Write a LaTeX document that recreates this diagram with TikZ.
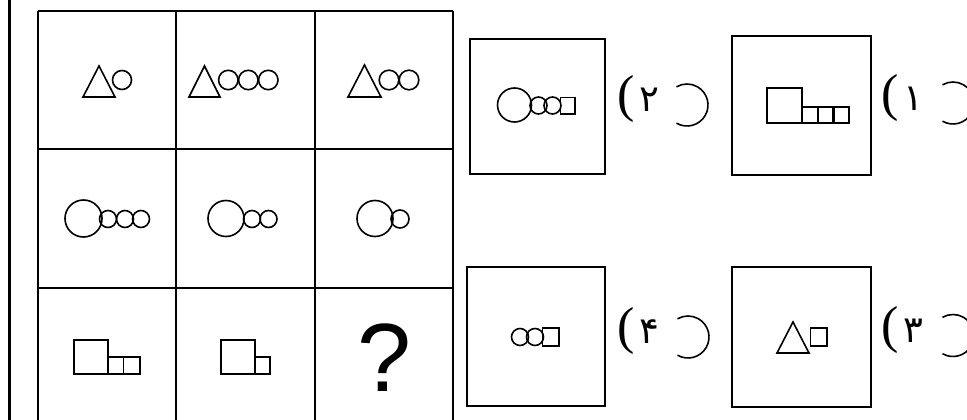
\documentclass[tikz,border=0pt]{standalone}
\usepackage{fontspec}
\newfontfamily\qfont{Liberation Sans}
\newfontfamily\parfont{Liberation Serif}
\newfontfamily\persfont[Script=Arabic]{DejaVu Sans}
\usetikzlibrary{positioning}

\tikzset{
  cellline/.style={line width=1.8pt},
  shapeline/.style={line width=1.6pt},
  optbox/.style={draw, line width=1.9pt, minimum width=137pt, minimum height=137pt, inner sep=0pt},
  numlabel/.style={inner sep=0pt}
}
\newcommand{\optnum}[1]{{\parfont\fontsize{52}{52}\selectfont(}\hspace{5pt}{\persfont\fontsize{37}{37}\selectfont #1}}

\begin{document}
\begin{tikzpicture}[x=1pt,y=-1pt]
        \useasboundingbox (0,0) rectangle (967,420);
        \clip (0,0) rectangle (967,420);

        % Marge
        \draw[line width=3pt] (9,0) -- (9,420);

        % Grille
        \foreach \gx in {38,176,315,453}
            \draw[cellline] (\gx,11) -- (\gx,430);
        \foreach \gy in {11,149,288}
            \draw[cellline] (38,\gy) -- (453,\gy);

        % Ligne 1
        \draw[shapeline] (83,97) -- (115,97) -- (99,66) -- cycle;
        \draw[shapeline] (122,80) circle (9.5pt);
        \draw[shapeline] (189,97) -- (220,97) -- (204.5,66) -- cycle;
        \foreach \cx in {228.3,248.3,268.3}
            \draw[shapeline] (\cx,80) circle (9.7pt);
        \draw[shapeline] (348,97) -- (381,97) -- (364.5,65) -- cycle;
        \foreach \cx in {389,409}
            \draw[shapeline] (\cx,80) circle (9.8pt);

        % Ligne 2
        \draw[shapeline] (83.5,218.5) circle (18.5pt);
        \foreach \cx in {108,125,141}
            \draw[shapeline] (\cx,219) circle (8.5pt);
        \draw[shapeline] (226,218.5) circle (18pt);
        \foreach \cx in {252,268.5}
            \draw[shapeline] (\cx,219) circle (8.5pt);
        \draw[shapeline] (375,218.5) circle (18pt);
        \draw[shapeline] (400,219) circle (9pt);

        % Ligne 3
        \draw[shapeline] (74,340) rectangle (108,374);
        \draw[shapeline] (108,357) rectangle (123.5,374);
        \draw[shapeline] (123.5,357) rectangle (140,374);
        \draw[shapeline] (221,340) rectangle (255,374);
        \draw[shapeline] (255,357) rectangle (270,374);
        \node[inner sep=0pt, font=\qfont\fontsize{97}{97}\selectfont] (ques) at (384,357.5) {?};

        % Reponses
        \node[optbox, minimum width=135pt, minimum height=135pt] (opt2) at (537.5,106.5) {};
        \node[optbox, minimum width=139pt, minimum height=139pt] (opt1) at (801.5,105.5) {};
        \node[optbox, minimum width=138pt, minimum height=139pt] (opt4) at (536,336.5) {};
        \node[optbox, minimum width=139pt, minimum height=140pt] (opt3) at (801.5,337) {};

        \node[numlabel, right=11pt of opt2, yshift=8pt] (num2) {\optnum{۲}};
        \node[numlabel, right=9pt of opt1, yshift=8pt] (num1) {\optnum{۱}};
        \node[numlabel, right=11pt of opt4, yshift=6pt] (num4) {\optnum{۴}};
        \node[numlabel, right=9pt of opt3, yshift=7pt] (num3) {\optnum{۳}};

        \draw[shapeline] (687,105) ++(-120:21pt) arc[start angle=-120, end angle=120, radius=21pt];
        \draw[shapeline] (953,103) ++(-120:21pt) arc[start angle=-120, end angle=120, radius=21pt];
        \draw[shapeline] (688,337) ++(-120:21pt) arc[start angle=-120, end angle=120, radius=21pt];
        \draw[shapeline] (953,335.5) ++(-120:21pt) arc[start angle=-120, end angle=120, radius=21pt];

        % Option 2 : cercles et carre
        \draw[shapeline] (514.5,105) circle (17pt);
        \foreach \cx in {538.5,552.5}
            \draw[shapeline] (\cx,105.5) circle (8.5pt);
        \draw[shapeline] (560.5,97.5) rectangle (575,114);

        % Option 1 : carres
        \draw[shapeline] (767,88) rectangle (802,123);
        \foreach \sx in {802,818,833}
            \draw[shapeline] (\sx,107) rectangle ++(15.7,16);

        % Option 4 : cercles et carre
        \foreach \cx in {520,535}
            \draw[shapeline] (\cx,337) circle (8.5pt);
        \draw[shapeline] (542.5,328) rectangle (559,346);

        % Option 3 : triangle et carre
        \draw[shapeline] (777,353) -- (809,353) -- (793,322) -- cycle;
        \draw[shapeline] (810.5,328) rectangle (827,346);
\end{tikzpicture}
\end{document}
